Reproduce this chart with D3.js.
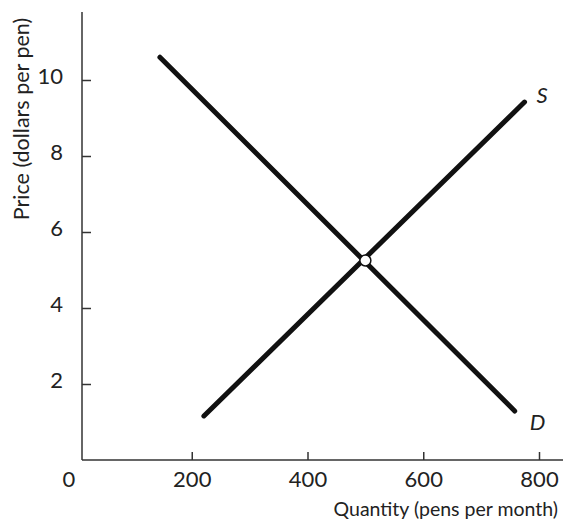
<!DOCTYPE html>
<html><head><meta charset="utf-8">
<script src="https://cdn.jsdelivr.net/npm/d3@7"></script>
<style>body{margin:0;background:#fff}svg{display:block}text{font-family:Lato,"Open Sans",sans-serif;fill:#222}</style>
</head><body><svg id="c" width="565" height="525"></svg>
<script>
const xTicks = [200, 400, 600, 800];
const yTicks = [2, 4, 6, 8, 10];
const demandQ = [145, 758];
const demandP = [10.6, 1.29];
const supplyQ = [221, 775];
const supplyP = [1.16, 9.42];
const equilibrium = [500, 5.25];
const curveLabels = ["S", "D"];

const svg = d3.select("#c");
const x = d3.scaleLinear().domain([0, 800]).range([76, 539]);
const y = d3.scaleLinear().domain([0, 10]).range([460, 80]);
const axisX0 = 82, axisYTop = 12, axisXRight = 563;

svg.append("line").attr("x1", axisX0).attr("x2", axisX0).attr("y1", axisYTop).attr("y2", y(0))
  .attr("stroke", "#333").attr("stroke-width", 1.5);
svg.append("line").attr("x1", axisX0).attr("x2", axisXRight).attr("y1", y(0)).attr("y2", y(0))
  .attr("stroke", "#333").attr("stroke-width", 1.5);

const xa = svg.append("g").attr("transform", `translate(0,${y(0)})`)
  .call(d3.axisBottom(x).tickValues(xTicks).tickSize(-8).tickPadding(11).tickFormat(d3.format("d")));
xa.select(".domain").remove();
xa.selectAll(".tick line").attr("stroke", "#333").attr("stroke-width", 1.5);
xa.selectAll(".tick text").attr("font-size", 22).attr("font-family", "Lato").attr("fill", "#222");
svg.append("text").attr("x", 69).attr("y", 487).attr("text-anchor", "middle")
  .attr("font-size", 22).text("0");

const ya = svg.append("g").attr("transform", `translate(${axisX0},0)`)
  .call(d3.axisLeft(y).tickValues(yTicks).tickSize(-9).tickPadding(19).tickFormat(d3.format("d")));
ya.select(".domain").remove();
ya.selectAll(".tick line").attr("stroke", "#333").attr("stroke-width", 1.5);
ya.selectAll(".tick text").attr("font-size", 22).attr("font-family", "Lato").attr("fill", "#222").attr("dy", "0.15em");

svg.append("text").attr("x", 558).attr("y", 516).attr("text-anchor", "end")
  .attr("font-size", 19.5).text("Quantity (pens per month)");
svg.append("text").attr("transform", "translate(29,119) rotate(-90)").attr("text-anchor", "middle")
  .attr("font-size", 21.5).text("Price (dollars per pen)");

const line = d3.line().x(d => x(d[0])).y(d => y(d[1]));
const dPts = demandQ.map((q, i) => [q, demandP[i]]);
const sPts = supplyQ.map((q, i) => [q, supplyP[i]]);
[dPts, sPts].forEach(pts => {
  svg.append("path").attr("d", line(pts)).attr("fill", "none")
    .attr("stroke", "#111").attr("stroke-width", 5).attr("stroke-linecap", "round");
});

svg.append("circle").attr("cx", x(equilibrium[0])).attr("cy", y(equilibrium[1])).attr("r", 5.5)
  .attr("fill", "#fff").attr("stroke", "#111").attr("stroke-width", 1.5);

svg.append("text").attr("x", x(supplyQ[1]) + 12).attr("y", y(supplyP[1]) + 1)
  .attr("font-size", 22).attr("font-style", "italic").text(curveLabels[0]);
svg.append("text").attr("x", x(demandQ[1]) + 15).attr("y", y(demandP[1]) + 19)
  .attr("font-size", 22).attr("font-style", "italic").text(curveLabels[1]);
</script></body></html>
